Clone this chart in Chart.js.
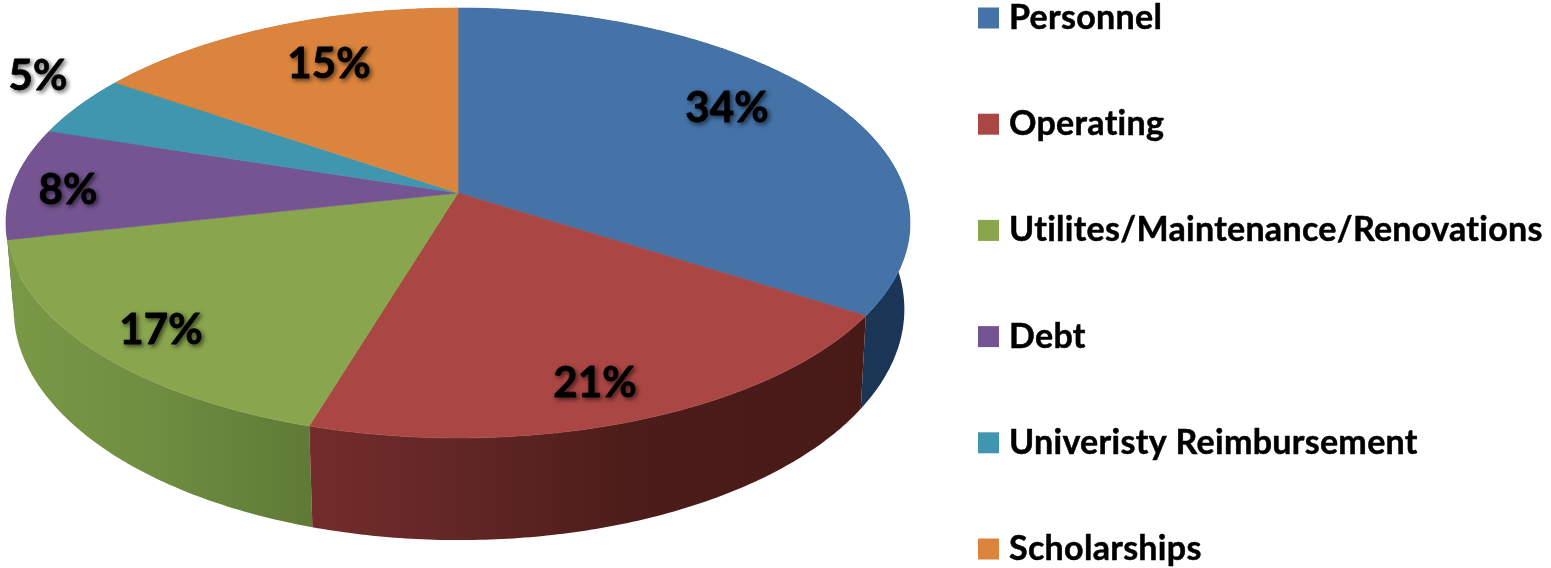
<!DOCTYPE html>
<html>
<head>
<meta charset="utf-8">
<title>Budget pie</title>
<script src="https://cdn.jsdelivr.net/npm/chart.js@4/dist/chart.umd.min.js"></script>
<style>
  html, body { margin: 0; padding: 0; background: #fff; overflow: hidden; }
  canvas { display: block; }
</style>
</head>
<body>
<canvas id="myChart" width="1551" height="568"></canvas>
<script>
// chart data
var categories = ['Personnel', 'Operating', 'Utilites/Maintenance/Renovations', 'Debt', 'Univeristy Reimbursement', 'Scholarships'];
var shares = [34.05, 20.6, 16.9, 8.4, 4.6, 15.45];

// colours
var faceColors = ['#4572a7', '#aa4643', '#89a54e', '#745592', '#3f96ae', '#db843d'];
var wallStops = [
    [[0, '#1b3557'], [1, '#1b3557']],
    [[0, '#742c2c'], [0.25, '#622725'], [0.6, '#4b1c19'], [1, '#481a17']],
    [[0, '#7a9946'], [0.5, '#6f8d40'], [1, '#5e7a36']],
    [[0, '#4a3560'], [1, '#4a3560']],
    [[0, '#255e6e'], [1, '#255e6e']],
    [[0, '#8f5424'], [1, '#8f5424']]
];

// where the percent labels sit, centre of text
var labelX = [727, 595, 161, 68, 38, 329];
var labelY = [108, 383, 330, 190, 76, 64];

// legend rows
var legendBoxX = 978, legendTextX = 1009, legendFirstY = 18, legendStep = 106.2, legendBox = 21;

// perspective of the disc, top face and bottom face
var tilt = 0.1395;
var topFace = { cx: 458, cy: 193, rx: 447.6, ry: 210.8 };
var bottomFace = { cx: 459, cy: 277, rx: 441, ry: 226.4 };

function project(face, angle) {
    var u = Math.cos(angle), v = Math.sin(angle), w = 1 - tilt * v;
    return [face.cx + face.rx * u / w, face.cy + face.ry * v / w];
}

function rimPoints(face, a0, a1) {
    var pts = [], n = Math.max(2, Math.ceil((a1 - a0) * 90));
    for (var i = 0; i <= n; i++) {
        pts.push(project(face, a0 + (a1 - a0) * i / n));
    }
    return pts;
}

function tracePath(ctx, pts) {
    ctx.beginPath();
    pts.forEach(function (p, i) {
        if (i === 0) ctx.moveTo(p[0], p[1]); else ctx.lineTo(p[0], p[1]);
    });
    ctx.closePath();
}

var pie3d = {
    id: 'pie3d',
    // the arcs keep their angles from the doughnut controller, only the projection is ours
    beforeDatasetDraw: function (chart, args) {
        var ctx = chart.ctx;
        var arcs = chart.getDatasetMeta(args.index).data;
        ctx.save();

        // walls first, from back to front
        var order = arcs.map(function (a, i) { return i; });
        order.sort(function (a, b) {
            return Math.sin((arcs[a].startAngle + arcs[a].endAngle) / 2) - Math.sin((arcs[b].startAngle + arcs[b].endAngle) / 2);
        });
        order.forEach(function (i) {
            var arc = arcs[i];
            var upper = rimPoints(topFace, arc.startAngle, arc.endAngle);
            var lower = rimPoints(bottomFace, arc.startAngle, arc.endAngle).reverse();
            var xs = upper.concat(lower).map(function (p) { return p[0]; });
            var grad = ctx.createLinearGradient(Math.min.apply(null, xs), 0, Math.max.apply(null, xs), 0);
            wallStops[i].forEach(function (s) { grad.addColorStop(s[0], s[1]); });
            tracePath(ctx, upper.concat(lower));
            ctx.fillStyle = grad;
            ctx.fill();
        });

        // top of the disc
        arcs.forEach(function (arc, i) {
            var pts = [[topFace.cx, topFace.cy]].concat(rimPoints(topFace, arc.startAngle, arc.endAngle));
            tracePath(ctx, pts);
            ctx.fillStyle = faceColors[i];
            ctx.strokeStyle = faceColors[i];
            ctx.lineWidth = 0.6;
            ctx.fill();
            ctx.stroke();
        });
        ctx.restore();
        return false;
    },
    afterDraw: function (chart) {
        var ctx = chart.ctx;
        ctx.save();
        ctx.textBaseline = 'middle';
        ctx.lineJoin = 'round';
        ctx.strokeStyle = '#000';

        // percent labels
        ctx.font = 'bold 42px Lato';
        ctx.letterSpacing = '0.2px';
        ctx.lineWidth = 0.8;
        ctx.textAlign = 'center';
        ctx.fillStyle = '#000';
        ctx.shadowColor = 'rgba(0,0,0,0.55)';
        ctx.shadowBlur = 4;
        ctx.shadowOffsetX = 2;
        ctx.shadowOffsetY = 2;
        shares.forEach(function (v, i) {
            var txt = Math.round(v) + '%';
            ctx.fillText(txt, labelX[i], labelY[i]);
            ctx.strokeText(txt, labelX[i], labelY[i]);
        });

        ctx.shadowColor = 'transparent';
        ctx.shadowBlur = 0;
        ctx.shadowOffsetX = 0;
        ctx.shadowOffsetY = 0;

        // legend
        ctx.font = 'bold 34px Lato';
        ctx.letterSpacing = '0.3px';
        ctx.lineWidth = 0.5;
        ctx.textAlign = 'left';
        categories.forEach(function (name, i) {
            var y = legendFirstY + legendStep * i;
            ctx.fillStyle = faceColors[i];
            ctx.fillRect(legendBoxX, y - legendBox / 2, legendBox, legendBox);
            ctx.fillStyle = '#000';
            ctx.fillText(name, legendTextX, y);
            ctx.strokeText(name, legendTextX, y);
        });
        ctx.restore();
    }
};

var ctx = document.getElementById('myChart').getContext('2d');
var myChart = new Chart(ctx, {
    type: 'pie',
    data: {
        labels: categories,
        datasets: [{
            data: shares,
            backgroundColor: faceColors,
            borderWidth: 0
        }]
    },
    options: {
        responsive: false,
        animation: false,
        plugins: {
            legend: { display: false },
            tooltip: { enabled: false }
        }
    },
    plugins: [pie3d]
});
</script>
</body>
</html>
